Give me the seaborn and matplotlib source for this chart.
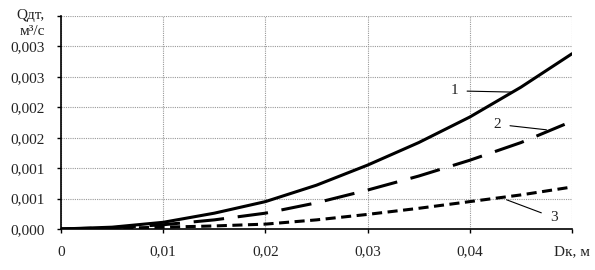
import matplotlib
matplotlib.use("Agg")
import matplotlib.pyplot as plt
import seaborn as sns
import pandas as pd

# Data
x_vals = [0.0, 0.005, 0.01, 0.015, 0.02, 0.025, 0.03, 0.035, 0.04, 0.045, 0.05]
curve1 = [0.0, 0.00003, 0.00011, 0.00026, 0.00045, 0.00072, 0.00105, 0.00142, 0.00184, 0.00233, 0.00288]
curve2 = [0.0, 0.00002, 0.00007, 0.00015, 0.00026, 0.00043, 0.00064, 0.00087, 0.00113, 0.00142, 0.00177]
curve3 = [0.0, 0.00001, 0.00003, 0.00005, 0.00008, 0.00015, 0.00024, 0.00034, 0.00045, 0.00056, 0.00069]
curve_names = ["1", "2", "3"]

x_ticks = [0.0, 0.01, 0.02, 0.03, 0.04, 0.05]
x_ticklabels = ["0", "0,01", "0,02", "0,03", "0,04", "Dк, м"]
y_ticks = [0.0, 0.0005, 0.001, 0.0015, 0.002, 0.0025, 0.003, 0.0035]
y_ticklabels = ["0,000", "0,001", "0,001", "0,002", "0,002", "0,003", "0,003", ""]
y_title = "Qдт,\nм³/с"

sns.set_theme(style="white")
plt.rcParams["font.family"] = ["Liberation Serif", "DejaVu Serif"]

fig = plt.figure(figsize=(5.95, 2.70), dpi=100)
ax = fig.add_axes([61/595, 1 - 229/270, (572 - 61)/595, (229 - 16)/270])

df = pd.DataFrame({"x": x_vals * 3,
                   "y": curve1 + curve2 + curve3,
                   "curve": [curve_names[0]] * len(x_vals) + [curve_names[1]] * len(x_vals) + [curve_names[2]] * len(x_vals)})

sns.lineplot(data=df, x="x", y="y", hue="curve", style="curve",
             palette=["black", "black", "black"],
             dashes={"1": "", "2": (10, 4.5), "3": (3.3, 1.8)},
             linewidth=2.2, legend=False, ax=ax)

ax.set_xlim(0, 0.05)
ax.set_ylim(0, 0.0035)
ax.set_xticks(x_ticks)
ax.set_xticklabels(x_ticklabels)
ax.set_yticks(y_ticks)
ax.set_yticklabels(y_ticklabels)
ax.set_xlabel("")
ax.set_ylabel("")

ax.grid(True, color="#999999", linestyle=(0, (1, 1)), linewidth=0.8)
for s in ["top", "right"]:
    ax.spines[s].set_visible(False)
for s in ["left", "bottom"]:
    ax.spines[s].set_color("black")
    ax.spines[s].set_linewidth(1.2)

ax.tick_params(axis="y", direction="out", length=3, width=1, color="black", pad=9, labelsize=11, labelcolor="#222222")
ax.tick_params(axis="x", direction="out", length=3, width=1, color="black", pad=9, labelsize=11, labelcolor="#222222")
ax.tick_params(left=True, bottom=True)

# y-axis title at the top
ax.text(-0.032, 0.965, y_title, transform=ax.transAxes, ha="right", va="center",
        fontsize=11, color="#222222", linespacing=1.3)

# curve labels with leader lines
ax.annotate("1", xy=(0.0441, 0.00225), xytext=(0.0385, 0.00227),
            ha="center", va="center", fontsize=11, color="#222222",
            arrowprops=dict(arrowstyle="-", color="black", lw=0.8, shrinkA=4, shrinkB=0))
ax.annotate("2", xy=(0.0475, 0.00163), xytext=(0.0427, 0.00172),
            ha="center", va="center", fontsize=11, color="#222222",
            arrowprops=dict(arrowstyle="-", color="black", lw=0.8, shrinkA=4, shrinkB=0))
ax.annotate("3", xy=(0.0436, 0.00048), xytext=(0.0482, 0.00019),
            ha="center", va="center", fontsize=11, color="#222222",
            arrowprops=dict(arrowstyle="-", color="black", lw=0.8, shrinkA=4, shrinkB=0))

fig.savefig("out.png", dpi=100)
